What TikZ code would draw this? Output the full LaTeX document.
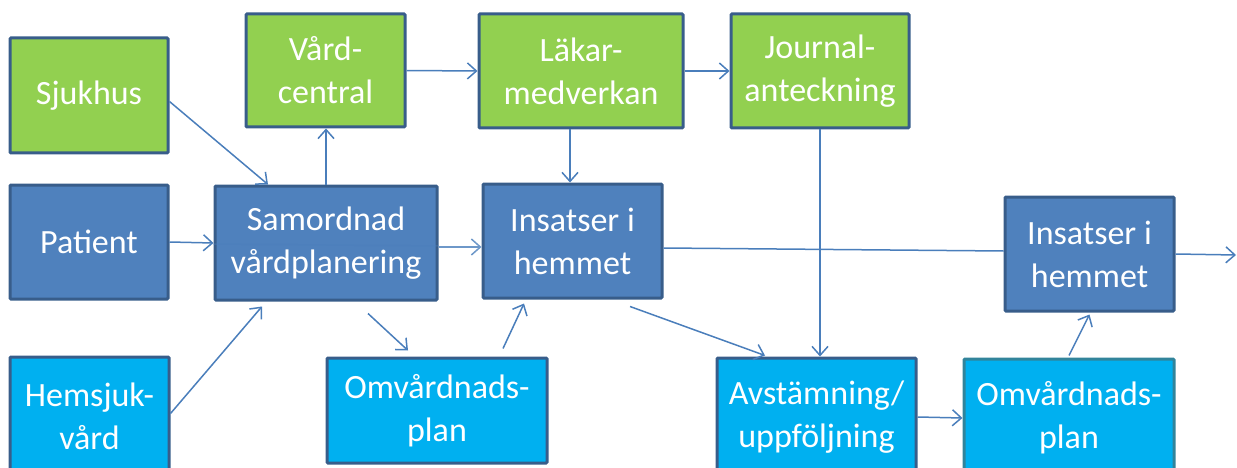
\documentclass[tikz,border=0pt]{standalone}
\usepackage{fontspec}
\setmainfont{Carlito}
\usetikzlibrary{arrows.meta}
\definecolor{cgreen}{HTML}{92D050}
\definecolor{cblue}{HTML}{4F81BD}
\definecolor{clight}{HTML}{00B0F0}
\definecolor{cborder}{HTML}{385D8A}
\definecolor{cteal}{HTML}{31849B}
\definecolor{cline}{HTML}{4A7EBB}
\tikzset{
  box/.style={draw=cborder, line width=3pt, text=white, align=center,
    inner sep=0pt, font=\fontsize{34}{43}\selectfont, rounded corners=1pt},
  gbox/.style={box, fill=cgreen},
  bbox/.style={box, fill=cblue},
  lbox/.style={box, fill=clight},
  conn/.style={draw=cline, line width=1.5pt, -{Straight Barb[length=9pt,width=16pt,line width=1.5pt]}},
  plain/.style={draw=cline, line width=1.5pt}
}
\begin{document}
\begin{tikzpicture}[x=1pt,y=-1pt]
\useasboundingbox (0,0) rectangle (1237,468);
\node[gbox, minimum width=158pt, minimum height=115pt] (sjuk) at (89,95.5) {Sjukhus};
\node[bbox, minimum width=158pt, minimum height=114pt] (patient) at (89,242) {Patient};
\node[lbox, minimum width=159pt, minimum height=119pt] (hems) at (89.5,416.5) {Hemsjuk-\\vård};
\node[gbox, minimum width=159pt, minimum height=113pt] (vc) at (325.5,70.5) {Vård-\\central};
\node[bbox, minimum width=222pt, minimum height=114pt] (samord) at (326,243) {Samordnad\\vårdplanering};
\node[gbox, minimum width=204pt, minimum height=114pt] (lakar) at (581,71) {Läkar-\\medverkan};
\node[gbox, minimum width=178pt, minimum height=114pt] (journ) at (820,71) {Journal-\\anteckning};
\node[bbox, minimum width=179pt, minimum height=114pt] (ins1) at (572.5,241) {Insatser i\\hemmet};
\node[lbox, minimum width=220pt, minimum height=105pt] (omv1) at (437,410.5) {Omvårdnads-\\plan};
\node[lbox, minimum width=199pt, minimum height=118pt] (avst) at (816.5,417) {Avstämning/\\uppföljning};
\node[lbox, draw=cteal, minimum width=210pt, minimum height=118pt] (omv2) at (1069,418) {Omvårdnads-\\plan};
\node[bbox, minimum width=169pt, minimum height=114pt] (ins2) at (1089.5,254) {Insatser i\\hemmet};
\coordinate (out) at (1236,255);

\draw[conn] ([yshift=-6pt]sjuk.east) -- ([xshift=-58pt]samord.north);
\draw[conn] (patient.east) -- (samord.west);
\draw[plain, opacity=0.35] ([yshift=-1pt]samord.west) -- ([yshift=-3pt]samord.east);
\draw[conn] ([yshift=3pt]hems.east) -- ([xshift=-64pt,yshift=-5pt]samord.south);
\draw[conn] (samord.north) -- (samord.north |- vc.south);
\draw[conn] (vc.east) -- (lakar.west);
\draw[conn] (lakar.east) -- (journ.west);
\draw[conn] ([xshift=-11pt]lakar.south) -- ([xshift=-11pt]lakar.south |- ins1.north);
\draw[conn, line width=2.5pt, draw=cline!80] ([yshift=-4pt]samord.east) -- ([yshift=-4pt]samord.east -| ins1.west);
\draw[conn] ([xshift=42pt,yshift=-12pt]samord.south) -- ([xshift=-29pt,yshift=6pt]omv1.north);
\draw[conn] ([xshift=66pt,yshift=8pt]omv1.north) -- ([xshift=-48.5pt,yshift=-4pt]ins1.south);
\draw[plain] ([yshift=-7pt]ins1.east) -- ([yshift=3pt]ins2.west);
\draw[conn] (ins2.east) -- (out);
\draw[conn] ([xshift=57.5pt,yshift=-7pt]ins1.south) -- ([xshift=-51.5pt,yshift=1pt]avst.north);
\draw[conn] (journ.south) -- (journ.south |- avst.north);
\draw[conn] (avst.east) -- (omv2.west);
\draw[conn] ([yshift=2pt]omv2.north) -- ([yshift=-2pt]ins2.south);
\end{tikzpicture}
\end{document}
